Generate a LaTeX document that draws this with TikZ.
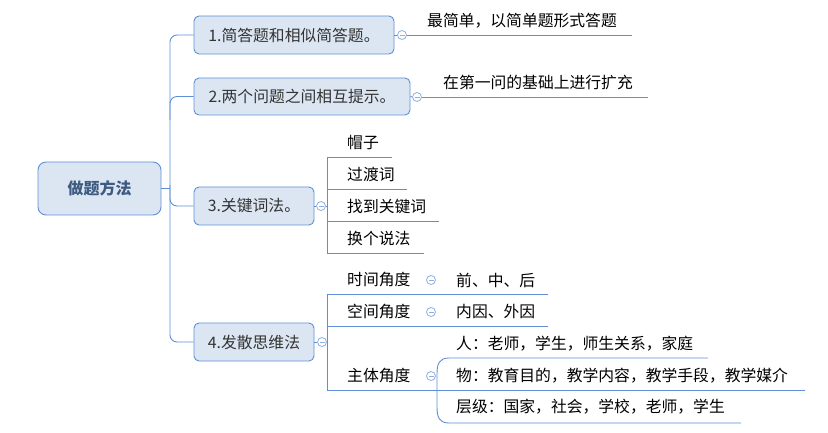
\documentclass[tikz,border=0pt]{standalone}
\usepackage{fontspec}
\setmainfont{Noto Sans CJK SC}
\begin{document}
\begin{tikzpicture}[x=1pt,y=-1pt,
  box/.style={draw=boxline,fill=boxfill,rounded corners=5pt,line width=0.9pt,inner sep=0pt,text=branchtext,font=\fontsize{15.8}{18}\selectfont},
  rootbox/.style={box,rounded corners=8pt,text=roottext,font=\fontsize{16}{18}\selectfont\bfseries},
  leaf/.style={anchor=west,inner sep=0pt,text=black,font=\fontsize{15.8}{18}\selectfont},
  conn/.style={draw=linecol,line width=0.9pt},
  fold/.style={circle,draw=foldcol,fill=white,line width=0.8pt,minimum size=9pt,inner sep=0pt,
    path picture={\draw[foldcol,line width=0.8pt] ([xshift=-2.5pt]path picture bounding box.center) -- ([xshift=2.5pt]path picture bounding box.center);}}
]
\definecolor{boxfill}{HTML}{DCE6F2}
\definecolor{boxline}{HTML}{5E8FD6}
\definecolor{linecol}{HTML}{5E8FD6}
\definecolor{foldcol}{HTML}{8FB0E0}
\definecolor{roottext}{HTML}{3D5A80}
\definecolor{branchtext}{HTML}{333333}
\useasboundingbox (0,0) rectangle (828,433);

% root and branches
\node[rootbox,minimum width=123pt,minimum height=53pt] (root) at (99.5,188.5) {做题方法};
\node[box,minimum width=200pt,minimum height=38pt] (b1) at (294,35) {1.简答题和相似简答题。};
\node[box,minimum width=216pt,minimum height=37pt] (b2) at (302,96.5) {2.两个问题之间相互提示。};
\node[box,minimum width=120pt,minimum height=38pt] (b3) at (254,206) {3.关键词法。};
\node[box,minimum width=120pt,minimum height=38pt] (b4) at (254,342) {4.发散思维法};

% trunk
\coordinate (tj) at (170,188.5);
\draw[conn] (root.east) -- (tj);
\draw[conn,rounded corners=7pt] (b1.west) -- (170,35) -- (170,342) -- (b4.west);
\draw[conn,rounded corners=7pt] (b2.west) -- (170,96.5) -- (170,120);
\draw[conn,rounded corners=7pt] (b3.west) -- (170,206) -- (170,185);

% fold circles
\node[fold] (c1) at (402,35) {};
\node[fold] (c2) at (417,97) {};
\node[fold] (c3) at (321,206) {};
\node[fold] (c4) at (322,342) {};

% branch 1 & 2 leaves
\coordinate (e1) at (632,35);
\coordinate (e2) at (648,97);
\draw[conn] (b1.east) -- (c1.west);
\draw[conn] (c1.east) -- (e1);
\draw[conn] (b2.east) -- (c2.west);
\draw[conn] (c2.east) -- (e2);
\node[leaf] (l1) at (427,21) {最简单，以简单题形式答题};
\node[leaf] (l2) at (443,82) {在第一问的基础上进行扩充};

% branch 3
\draw[conn] (b3.east) -- (c3.west);
\coordinate (v3) at (327,206);
\draw[conn] (c3.east) -- (v3);
\coordinate (k1a) at (327,157); \coordinate (k1b) at (392,157);
\coordinate (k2a) at (327,189); \coordinate (k2b) at (407,189);
\coordinate (k3a) at (327,221); \coordinate (k3b) at (439,221);
\coordinate (k4a) at (327,253); \coordinate (k4b) at (424,253);
\draw[conn] (k1b) -- (k1a) -- (k4a) -- (k4b);
\draw[conn] (k2a) -- (k2b);
\draw[conn] (k3a) -- (k3b);
\node[leaf] (t31) at (347,143) {帽子};
\node[leaf] (t32) at (347,174) {过渡词};
\node[leaf] (t33) at (347,207) {找到关键词};
\node[leaf] (t34) at (347,238) {换个说法};

% branch 4
\draw[conn] (b4.east) -- (c4.west);
\coordinate (v4) at (327,342);
\draw[conn] (c4.east) -- (v4);
\coordinate (s1a) at (327,294); \coordinate (s1b) at (548,294);
\coordinate (s2a) at (327,326); \coordinate (s2b) at (548,326);
\coordinate (s3a) at (327,390); \coordinate (s3b) at (805,390);
\draw[conn] (s1b) -- (s1a) -- (s3a) -- (s3b);
\draw[conn] (s2a) -- (s2b);
\node[leaf] (t41) at (347,280) {时间角度};
\node[leaf] (t42) at (347,312) {空间角度};
\node[leaf] (t43) at (347,376) {主体角度};

% 主体 bracket
\coordinate (p1) at (708,358);
\coordinate (p3) at (741,423);
\draw[conn] (p1) -- (449,358) .. controls (439,358) and (437,364) .. (437,374) -- (437,407) .. controls (437,417) and (439,423) .. (449,423) -- (p3);

\node[fold] (c41) at (431,280) {};
\node[fold] (c42) at (431,312) {};
\node[fold] (c43) at (431,376) {};

\node[leaf] (u1) at (456,280) {前、中、后};
\node[leaf] (u2) at (456,312) {内因、外因};
\node[leaf] (w1) at (456,344) {人：老师，学生，师生关系，家庭};
\node[leaf] (w2) at (456,376) {物：教育目的，教学内容，教学手段，教学媒介};
\node[leaf] (w3) at (456,407) {层级：国家，社会，学校，老师，学生};
\end{tikzpicture}
\end{document}
